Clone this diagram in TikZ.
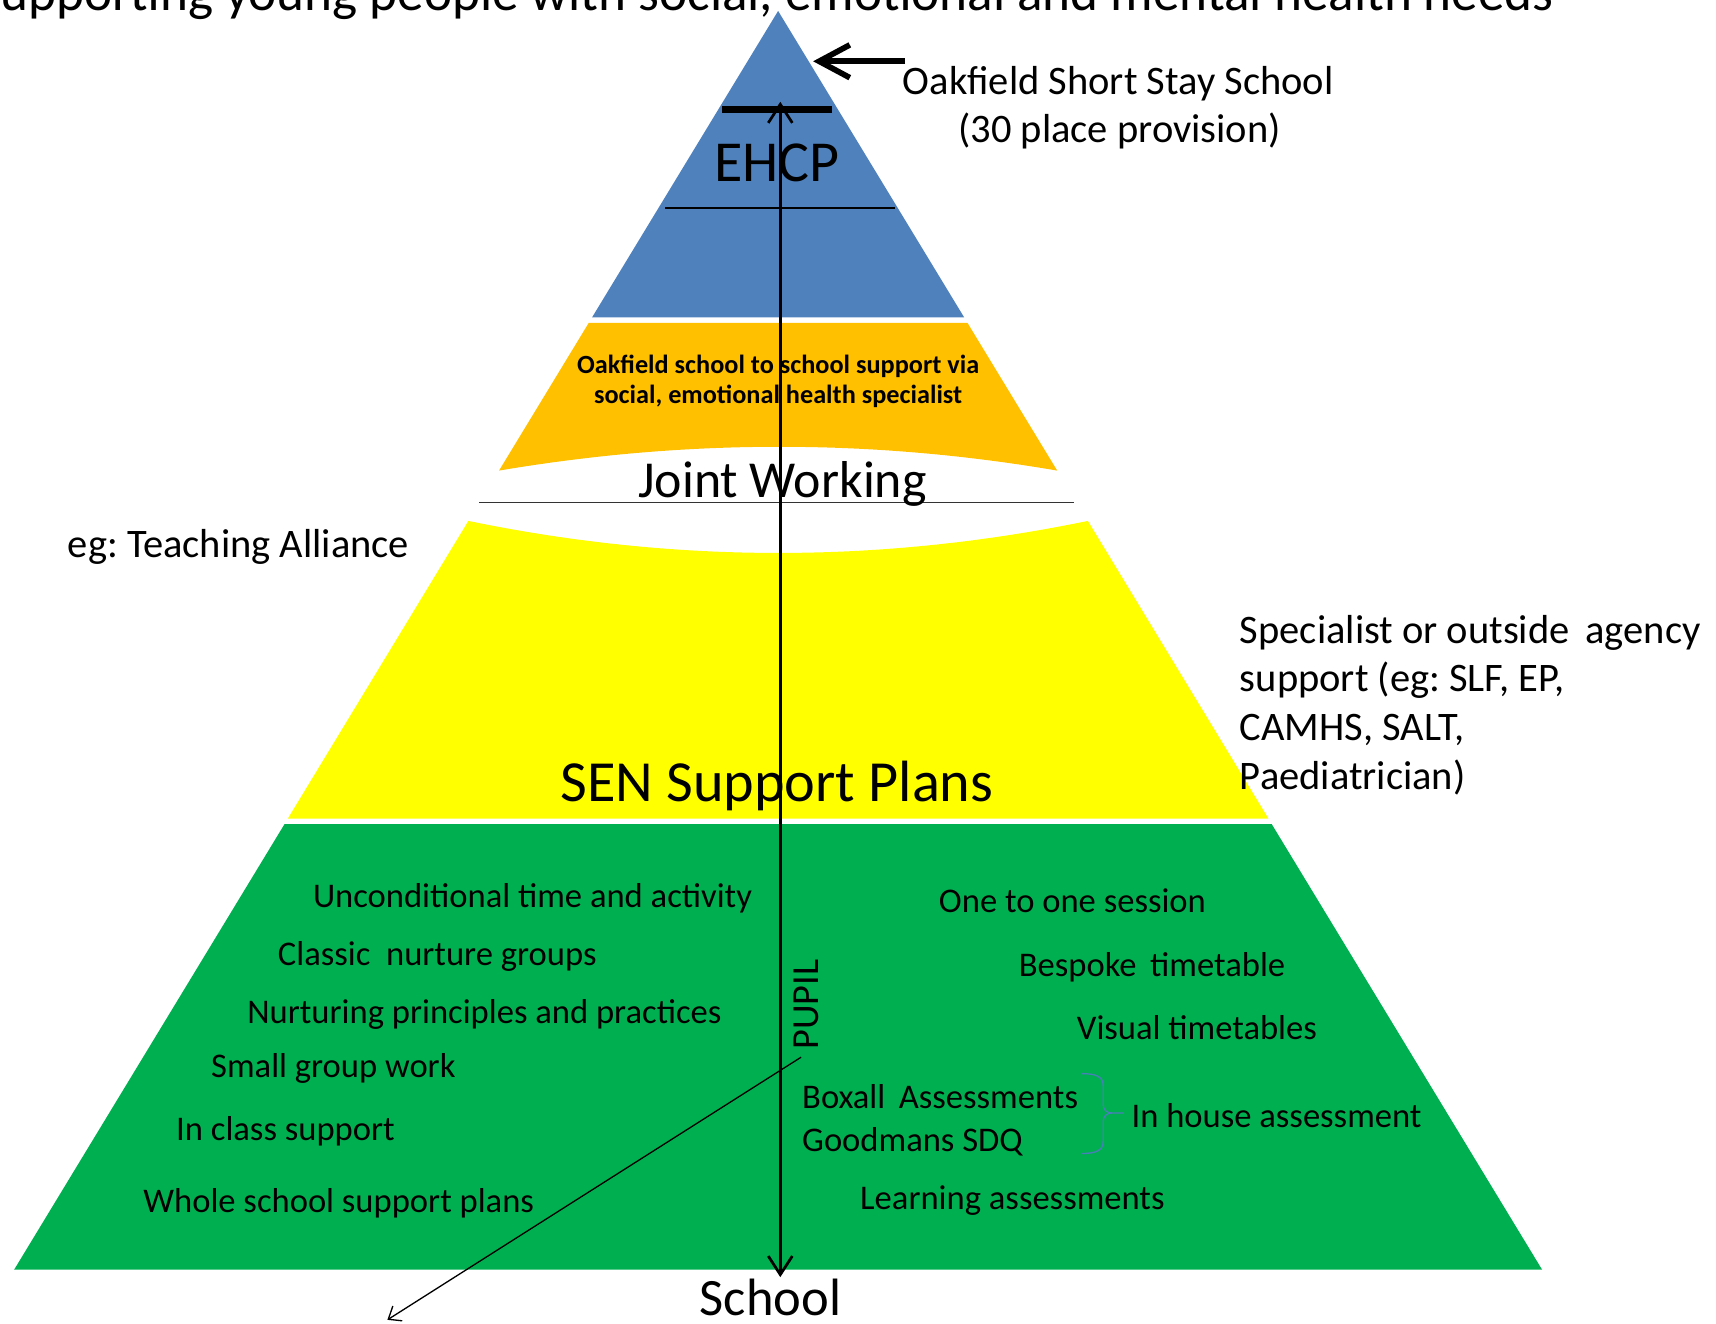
\documentclass[tikz,border=0pt]{standalone}
\usepackage{fontspec}
\setmainfont{Carlito}
\usetikzlibrary{arrows.meta}
\definecolor{pblue}{RGB}{79,129,189}
\definecolor{porange}{RGB}{255,192,0}
\definecolor{pyellow}{RGB}{255,255,0}
\definecolor{pgreen}{RGB}{0,176,80}
\definecolor{bracecol}{RGB}{74,126,187}
\newcommand{\fs}[2]{\fontsize{#1}{#2}\selectfont}
\frenchspacing
\tikzset{
  lbl/.style={inner sep=0pt, outer sep=0pt},
  item/.style={lbl, anchor=base west, font=\fs{15.8}{19}},
  side/.style={lbl, anchor=base west, font=\fs{18.5}{22}},
}
\begin{document}
\begin{tikzpicture}[x=0.5pt,y=-0.5pt]
\useasboundingbox (0,0) rectangle (1568,1209);
\clip (0,0) rectangle (1568,1209);

% title (cut at top)
\node[lbl, anchor=base west, font=\fs{24.3}{29}] (title) at (-22,10)
  {Supporting young people with social, emotional and mental health needs};

% pyramid bands
\fill[pblue] (711,10) -- (881,290) -- (541,290) -- cycle;
\fill[porange] (538,295) -- (884,295) -- (966,430)
  .. controls (797,401) and (627,401) .. (456,430) -- cycle;
\fill[pyellow] (428,476) .. controls (617,515) and (805,515) .. (994,476)
  -- (1159,748) -- (263,748) -- cycle;
\fill[pgreen] (260,753) -- (1162,753) -- (1409,1160) -- (13,1160) -- cycle;

% lines inside
\draw[line width=0.6pt] (608,190) -- (818,190);
\draw[line width=3pt] (660,100) -- (760,100);
\draw[line width=0.75pt, black!80] (438,459) -- (981,459);

% texts
\node[lbl, anchor=base, font=\fs{26.5}{30}] (ehcp) at (710,166) {EHCP};
\node[side] (oss) at (825,86) {Oakfield Short Stay School};
\node[lbl, anchor=base, font=\fs{18.5}{22}] (prov) at (1023,130) {(30 place provision)};
\node[lbl, anchor=base, font=\bfseries\fs{12}{14}] (or1) at (711,341) {Oakfield school to school support via};
\node[lbl, anchor=base, font=\bfseries\fs{12}{14}] (or2) at (711,369) {social, emotional health specialist};
\node[lbl, anchor=base, font=\fs{23.7}{28}] (joint) at (715,455) {Joint Working};
\node[side] (eg) at (62,509) {eg: Teaching Alliance};
\node[side] (sp1) at (1133,588) {Specialist or outside\ \,agency};
\node[side] (sp2) at (1133,632) {support (eg: SLF, EP,};
\node[side] (sp3) at (1133,677) {CAMHS, SALT,};
\node[side] (sp4) at (1133,721) {Paediatrician)};
\node[lbl, anchor=base, font=\fs{26.6}{31}] (sen) at (710,732) {SEN Support Plans};

\node[item] (l1) at (286,829) {Unconditional time and activity};
\node[item] (l2) at (254,882) {Classic\ \ nurture groups};
\node[item] (l3) at (226,935) {Nurturing principles and practices};
\node[item] (l4) at (193,985) {Small group work};
\node[item] (l5) at (161,1042) {In class support};
\node[item] (l6) at (131,1108) {Whole school support plans};

\node[item] (r1) at (858,834) {One to one session};
\node[item] (r2) at (931,892) {Bespoke\ \,timetable};
\node[item] (r3) at (984,950) {Visual timetables};
\node[item] (r4) at (733,1013) {Boxall\ \,Assessments};
\node[item] (r5) at (733,1052) {Goodmans SDQ};
\node[item] (r6) at (1034,1030) {In house assessment};
\node[item] (r7) at (786,1105) {Learning assessments};

\node[lbl, anchor=center, rotate=90, font=\fs{17.5}{21}] (pupil) at (737,918) {PUPIL};
\node[lbl, anchor=base, font=\fs{24}{29}] (school) at (704,1202) {School};

% brace
\draw[bracecol, line width=0.6pt]
  (988,981) .. controls (1002,981) and (1008,984) .. (1008,992) -- (1008,1009)
  .. controls (1008,1014) and (1011,1017) .. (1016,1017) -- (1027,1017);
\draw[bracecol, line width=0.6pt]
  (1016,1017) .. controls (1011,1017) and (1008,1020) .. (1008,1025) -- (1008,1043)
  .. controls (1008,1051) and (1002,1054) .. (988,1054);

% connectors
\coordinate (vtop) at (713,93);
\coordinate (vbot) at (713,1167);
\coordinate (atail) at (827,56);
\coordinate (atip) at (743,56);
\coordinate (dstart) at (732,966);
\coordinate (dend) at (354,1206);

\draw[line width=1.25pt, {Straight Barb[length=8.5pt,width=11pt]}-{Straight Barb[length=8.5pt,width=11pt]}] (vtop) -- (vbot);
\draw[line width=2.6pt, -{Straight Barb[length=14pt,width=15pt]}] (atail) -- (atip);
\draw[line width=0.6pt, -{Straight Barb[length=5pt,width=8pt]}] (dstart) -- (dend);
\end{tikzpicture}
\end{document}
